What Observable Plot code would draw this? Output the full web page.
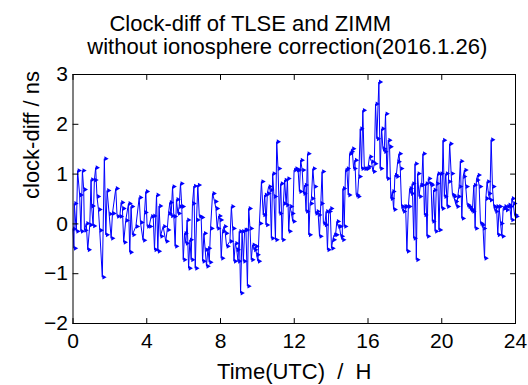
<!DOCTYPE html>
<html><head><meta charset="utf-8">
<script src="https://cdn.jsdelivr.net/npm/d3@7"></script>
<script src="https://cdn.jsdelivr.net/npm/@observablehq/plot@0.6"></script>
<style>
html,body{margin:0;padding:0;background:#fff;}
#chart svg text{white-space:pre;}
</style></head><body><div id="chart"></div>
<script>
// [hour (UTC), clock difference (ns)], per 4-hour block
const block00to04 = [[0,-0.10],[0.05,-0.49],[0.07,0.41],[0.18,-0.15],[0.25,1.07],[0.36,0.58],[0.43,-0.15],[0.51,1.07],[0.58,0.69],[0.62,-0.13],[0.72,0.01],[0.80,-0.52],[0.91,-0.02],[0.98,0.89],[1.01,0.36],[1.09,-0.04],[1.16,0.88],[1.23,1.13],[1.30,0.55],[1.38,0.29],[1.45,-0.13],[1.59,-1.07],[1.70,1.31],[1.78,-0.22],[1.85,0.67],[1.96,0.20],[2.07,-0.29],[2.14,0.21],[2.32,0.71],[2.39,0.15],[2.54,0.15],[2.61,0.43],[2.68,0.31],[2.75,-0.37],[2.86,0.07],[3.01,0.41],[3.08,-0.57],[3.15,0.35],[3.22,-0.22],[3.41,-0.05],[3.59,0.53],[3.66,0.03],[3.80,-0.33],[3.88,0.23],[3.95,0.65],[4.02,-0.05]];
const block04to08 = [[4.13,-0.05],[4.24,0.15],[4.35,0.16],[4.42,-0.52],[4.53,0.58],[4.60,-0.55],[4.67,0.36],[4.74,-0.25],[4.89,-0.05],[5.03,-0.35],[5.11,-0.12],[5.18,0.21],[5.25,0.43],[5.32,0.16],[5.40,0.75],[5.47,0.15],[5.54,-0.45],[5.61,0.49],[5.69,0.21],[5.76,0.35],[5.83,0.81],[5.90,0.35],[5.98,-0.72],[6.05,-0.19],[6.12,-0.39],[6.19,0.08],[6.27,-0.89],[6.34,-0.32],[6.41,-0.72],[6.48,0.41],[6.56,0.76],[6.63,-0.89],[6.70,0.08],[6.77,0.78],[6.85,0.15],[6.95,0.13],[7.03,-0.75],[7.10,-0.19],[7.17,-0.52],[7.24,-0.85],[7.32,-0.49],[7.39,-0.77],[7.46,-0.09],[7.57,0.61],[7.68,0.45],[7.75,0.31],[7.82,-0.09],[7.90,0.16],[7.97,0.08],[8.04,-0.69]];
const block08to12 = [[8.11,-0.15],[8.19,-0.05],[8.26,-0.19],[8.33,-0.45],[8.51,-0.35],[8.59,0.35],[8.66,-0.09],[8.73,-0.75],[8.80,-0.39],[8.88,-0.52],[8.95,-0.75],[9.02,-0.15],[9.09,-1.39],[9.17,-0.15],[9.24,-0.75],[9.31,-0.12],[9.38,-0.12],[9.46,-1.25],[9.53,0.31],[9.60,-0.09],[9.67,-0.72],[9.74,-0.42],[9.82,-0.52],[9.89,-0.45],[9.96,-0.62],[10.03,-0.75],[10.11,0.01],[10.22,0.85],[10.32,0.18],[10.40,0.58],[10.47,-0.02],[10.54,0.61],[10.61,0.75],[10.69,0.68],[10.76,-0.29],[10.83,1.01],[10.90,0.55],[10.98,-0.32],[11.05,1.65],[11.12,1.11],[11.19,0.21],[11.27,0.81],[11.34,-0.32],[11.41,0.41],[11.48,0.88],[11.56,0.38],[11.63,0.91],[11.70,-0.15],[11.77,0.35],[11.85,0.21],[11.92,0.05],[11.99,1.08],[12.06,1.11]];
const block12to16 = [[12.14,1.08],[12.21,1.08],[12.28,0.65],[12.35,1.28],[12.43,1.08],[12.50,0.61],[12.57,0.78],[12.64,0.25],[12.72,1.41],[12.79,-0.22],[12.86,0.41],[12.93,0.51],[13.01,1.11],[13.08,0.75],[13.15,0.21],[13.22,0.25],[13.30,0.18],[13.37,-0.25],[13.44,0.41],[13.51,1.05],[13.58,0.01],[13.66,-0.02],[13.73,0.25],[13.80,-0.52],[13.87,0.25],[13.95,0.31],[14.02,-0.49],[14.09,-0.32],[14.16,-0.22],[14.24,-0.22],[14.31,0.05],[14.38,-0.05],[14.45,-0.05],[14.53,-0.25],[14.60,-0.32],[14.64,0.71],[14.71,-0.05],[14.78,1.08],[14.85,1.11],[14.93,0.58],[15.00,1.41],[15.07,1.45],[15.14,1.51],[15.22,1.11],[15.29,1.28],[15.36,0.58],[15.43,0.55],[15.50,0.95],[15.58,1.91],[15.65,1.11],[15.72,2.28],[15.80,1.11],[15.87,1.11],[15.94,1.11],[16.01,1.15],[16.08,1.35]];
const block16to20 = [[16.19,1.25],[16.27,1.05],[16.34,1.21],[16.41,2.41],[16.48,1.71],[16.59,2.85],[16.66,1.11],[16.74,1.91],[16.81,1.51],[16.88,1.45],[16.95,2.21],[17.03,0.91],[17.10,1.68],[17.17,1.55],[17.24,0.51],[17.32,0.65],[17.39,0.29],[17.46,0.98],[17.53,0.95],[17.61,1.25],[17.68,1.41],[17.75,1.11],[17.82,0.35],[17.90,0.25],[17.97,0.35],[18.04,0.35],[18.11,-0.55],[18.19,0.35],[18.26,0.71],[18.33,0.61],[18.40,0.81],[18.48,-0.29],[18.55,1.21],[18.62,-0.72],[18.69,1.01],[18.77,0.55],[18.84,0.78],[18.91,0.78],[18.98,1.41],[19.06,0.18],[19.13,0.81],[19.20,-0.25],[19.27,0.91],[19.35,0.81],[19.42,0.78],[19.49,0.05],[19.56,0.68],[19.64,-0.15],[19.71,0.81],[19.78,1.01],[19.85,-0.12],[19.93,1.01],[20.00,0.31],[20.07,1.68],[20.14,0.55]];
const block20to24 = [[20.22,1.01],[20.29,0.35],[20.36,0.85],[20.43,1.61],[20.51,1.01],[20.58,0.58],[20.65,0.55],[20.72,0.45],[20.80,0.35],[20.87,0.55],[20.94,0.75],[21.01,1.26],[21.09,0.11],[21.16,0.95],[21.23,1.08],[21.30,0.75],[21.38,0.38],[21.45,0.35],[21.52,0.31],[21.59,0.28],[21.66,0.25],[21.74,0.78],[21.81,-0.09],[21.88,0.88],[21.95,0.98],[22.03,0.75],[22.10,0.01],[22.17,-0.02],[22.24,-0.09],[22.32,-0.69],[22.39,0.51],[22.46,0.85],[22.53,0.61],[22.61,0.48],[22.68,1.69],[22.75,0.75],[22.82,0.35],[22.90,0.25],[22.97,0.35],[23.04,-0.22],[23.11,0.35],[23.19,0.01],[23.26,-0.25],[23.33,0.31],[23.40,0.35],[23.48,0.28],[23.55,0.35],[23.62,0.38],[23.69,0.35],[23.77,0.08],[23.80,0.51],[23.88,0.41],[23.95,0.18],[24.00,0.15]];

const xTicks = [0, 4, 8, 12, 16, 20, 24];
const yTicks = [-2, -1, 0, 1, 2, 3];
const xDomain = [0, 24];
const yDomain = [-2, 3];
const titleLine1 = "Clock-diff of TLSE and ZIMM";
const titleLine2 = "without ionosphere correction(2016.1.26)";
const xLabel = "Time(UTC)  /  H";
const yLabel = "clock-diff / ns";

const data = [...block00to04, ...block04to08, ...block08to12, ...block12to16, ...block16to20, ...block20to24]
  .map(([h, v]) => ({h, v}));

const tickShape = {draw(context, l) { context.moveTo(0, 0); context.lineTo(0, -l); }};
const tickOpts = {length: 5, anchor: "start", shape: tickShape, stroke: "black", strokeWidth: 1};

const chart = Plot.plot({
  width: 528, height: 385,
  marginLeft: 72.5, marginRight: 13, marginTop: 74, marginBottom: 62,
  style: {fontFamily: "'Liberation Sans', Arial, sans-serif", background: "#fff", color: "#000", overflow: "visible"},
  x: {domain: xDomain},
  y: {domain: yDomain},
  marks: [
    Plot.line(data, {x: "h", y: "v", stroke: "#0000ff", strokeWidth: 1}),
    Plot.dot(data, {x: "h", y: "v", symbol: "triangle", rotate: 90, r: 1.8, fill: "#0000ff", stroke: "none", dx: 1.5}),
    Plot.vector(xTicks, {x: d => d, y: yDomain[0], rotate: 0, ...tickOpts}),
    Plot.vector(xTicks, {x: d => d, y: yDomain[1], rotate: 180, ...tickOpts}),
    Plot.vector(yTicks, {x: xDomain[0], y: d => d, rotate: 90, ...tickOpts}),
    Plot.vector(yTicks, {x: xDomain[1], y: d => d, rotate: -90, ...tickOpts}),
    Plot.frame({stroke: "black", strokeWidth: 1}),
    Plot.axisX({ticks: xTicks, tickSize: 0, tickPadding: 10, fontSize: 21, label: null, tickFormat: d3.format("d")}),
    Plot.axisY({ticks: yTicks, tickSize: 0, tickPadding: 5, fontSize: 21, label: null, tickFormat: d3.format("d")}),
    Plot.text([titleLine1], {frameAnchor: "top", dx: -44, dy: -59, fontSize: 22, fill: "black"}),
    Plot.text([titleLine2], {frameAnchor: "top", dx: -7, dy: -36, fontSize: 22, fill: "black"}),
    Plot.text([xLabel], {frameAnchor: "bottom", dy: 55, fontSize: 22, fill: "black"}),
    Plot.text([yLabel], {frameAnchor: "left", rotate: -90, dx: -41, fontSize: 22, fill: "black"})
  ]
});
document.getElementById("chart").appendChild(chart);
</script>
</body></html>
